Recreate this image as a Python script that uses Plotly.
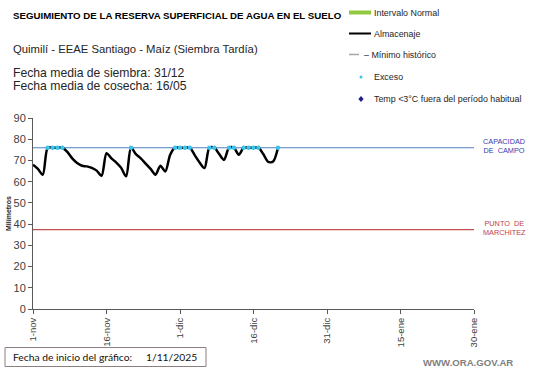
import pandas as pd
import plotly.graph_objects as go

# ---------------- data ----------------
FECHA_INICIO = "2025-11-01"
ALMACENAJE = [68, 66, 63.3, 76, 76, 76, 76, 74, 71, 68.8,
              67.5, 67.2, 66.5, 65.2, 62.8, 73.4, 71, 69, 66.5, 62.5,
              76, 73, 71, 68.5, 66, 63.3, 67.5, 64.8, 72.7, 76,
              76, 76, 76, 72.5, 69, 66.4, 76, 76, 73, 70.3,
              76, 76, 72.7, 76, 76, 76, 76, 73, 69.3, 69.5,
              76]
EXCESO = [None, None, None, 76, 76, 76, 76, None, None, None,
          None, None, None, None, None, None, None, None, None, None,
          76, None, None, None, None, None, None, None, None, 76,
          76, 76, 76, None, None, None, 76, 76, None, None,
          76, 76, None, 76, 76, 76, 76, None, None, None,
          76]
CAPACIDAD_CAMPO = 76
PUNTO_MARCHITEZ = 37.4
TICK_FECHAS = ["2025-11-01", "2025-11-16", "2025-12-01", "2025-12-16",
               "2025-12-31", "2026-01-15", "2026-01-30"]
TICK_TEXTOS = ["1-nov", "16-nov", "1-dic", "16-dic", "31-dic", "15-ene", "30-ene"]
Y_TICKS = [0, 10, 20, 30, 40, 50, 60, 70, 80, 90]

fechas = pd.date_range(FECHA_INICIO, periods=len(ALMACENAJE), freq="D")

# ---------------- layout helpers ----------------
W, H = 541, 368
L, R, T, B = 33, 474, 118, 309


def px(x):
    return (x - L) / (R - L)


def py(y):
    return (B - y) / (B - T)


FONT = "Liberation Sans, Arial, sans-serif"

fig = go.Figure()

fig.add_trace(go.Scatter(
    x=fechas, y=ALMACENAJE, mode="lines",
    line=dict(color="black", width=2.5, shape="spline", smoothing=0.8),
    hoverinfo="x+y", showlegend=False))

fig.add_trace(go.Scatter(
    x=fechas, y=EXCESO, mode="markers",
    marker=dict(color="#3CC4EC", size=4.5, symbol="circle"),
    showlegend=False))

shapes = []
shapes.append(dict(type="line", xref="x", yref="y",
                   x0=TICK_FECHAS[0], x1=TICK_FECHAS[-1],
                   y0=CAPACIDAD_CAMPO, y1=CAPACIDAD_CAMPO,
                   line=dict(color="#4F81BD", width=1.1), layer="below"))
shapes.append(dict(type="line", xref="x", yref="y",
                   x0=TICK_FECHAS[0], x1=TICK_FECHAS[-1],
                   y0=PUNTO_MARCHITEZ, y1=PUNTO_MARCHITEZ,
                   line=dict(color="#C0504D", width=1.1), layer="below"))

# legend symbols (manual)
shapes.append(dict(type="rect", xref="paper", yref="paper",
                   x0=px(349), x1=px(371), y0=py(14.5), y1=py(10.5),
                   fillcolor="#92C83E", line=dict(width=0)))
shapes.append(dict(type="line", xref="paper", yref="paper",
                   x0=px(349), x1=px(371), y0=py(33.5), y1=py(33.5),
                   line=dict(color="black", width=2)))
shapes.append(dict(type="line", xref="paper", yref="paper",
                   x0=px(349), x1=px(359), y0=py(54.5), y1=py(54.5),
                   line=dict(color="#A6A6A6", width=1.5)))
shapes.append(dict(type="circle", xref="paper", yref="paper",
                   x0=px(359.5), x1=px(362.5), y0=py(78.5), y1=py(75.5),
                   fillcolor="#3CC4EC", line=dict(width=0)))
cx, cy = 361, 99
shapes.append(dict(type="path", xref="paper", yref="paper",
                   path=f"M {px(cx)} {py(cy-3)} L {px(cx+2.6)} {py(cy)} L {px(cx)} {py(cy+3)} L {px(cx-2.6)} {py(cy)} Z",
                   fillcolor="#1F1F8F", line=dict(width=0)))
# bottom info box
shapes.append(dict(type="rect", xref="paper", yref="paper",
                   x0=px(5), x1=px(206), y0=py(366.5), y1=py(347.5),
                   line=dict(color="#8C7F80", width=1), fillcolor="white", layer="below"))

annotations = []


def txt(x, y, text, size, color="#262626", anchor="left", bold=False, family=FONT, angle=0):
    if bold:
        text = f"<b>{text}</b>"
    annotations.append(dict(xref="paper", yref="paper", x=px(x), y=py(y),
                            text=text, showarrow=False, xanchor=anchor,
                            yanchor="middle", textangle=angle,
                            font=dict(family=family, size=size, color=color)))


txt(11, 15, "SEGUIMIENTO DE LA RESERVA SUPERFICIAL DE AGUA EN EL SUELO", 9.7, "black", bold=True)
txt(11, 49, "Quimilí - EEAE Santiago - Maíz (Siembra Tardía)", 11.3)
txt(11, 73.5, "Fecha media de siembra: 31/12", 12.2)
txt(11, 86, "Fecha media de cosecha: 16/05", 12.2)

txt(372, 12.5, "Intervalo Normal", 8.9)
txt(372, 34, "Almacenaje", 8.9)
txt(362, 55, "– Mínimo histórico", 8.9)
txt(372, 77, "Exceso", 8.9)
txt(372, 99, "Temp <3°C fuera del período habitual", 8.9)

txt(481, 146, "CAPACIDAD<br>DE  CAMPO", 7.3, "#3A3AB0")
txt(481, 228, "PUNTO  DE<br>MARCHITEZ", 7.3, "#C0404A")

txt(8, 214, "Milímetros", 7, "#262626", anchor="center", bold=True, angle=-90)

txt(11, 357, "Fecha de inicio del gráfico:", 10.3, "#111111", family="Lato, Carlito, sans-serif")
txt(144, 357, "1/11/2025", 10.3, "#111111", family="Lato, Carlito, sans-serif")

txt(468, 362, "WWW.ORA.GOV.AR", 9.6, "#7F7F7F", anchor="center", bold=True)

fig.update_layout(
    width=W, height=H,
    margin=dict(l=L, r=W - R, t=T, b=H - B, pad=0),
    paper_bgcolor="white", plot_bgcolor="white",
    showlegend=False,
    shapes=shapes, annotations=annotations,
    font=dict(family=FONT, size=11, color="#404040"),
)
fig.update_xaxes(
    range=[TICK_FECHAS[0], TICK_FECHAS[-1]],
    tickvals=TICK_FECHAS, ticktext=TICK_TEXTOS, tickangle=-90,
    showgrid=False, zeroline=False, showline=True, linecolor="#595959", linewidth=1,
    ticks="outside", ticklen=4, tickcolor="#595959",
    tickfont=dict(family=FONT, size=9.5, color="#404040"),
)
fig.update_yaxes(
    range=[0, 90], tickvals=Y_TICKS,
    showgrid=False, zeroline=False, showline=True, linecolor="#595959", linewidth=1,
    ticks="outside", ticklen=4, tickcolor="#595959",
    tickfont=dict(family=FONT, size=11, color="#404040"),
)

fig.write_html("out.html", config={"displayModeBar": False},
               post_script="document.body.style.margin='0';document.body.style.padding='0';")
